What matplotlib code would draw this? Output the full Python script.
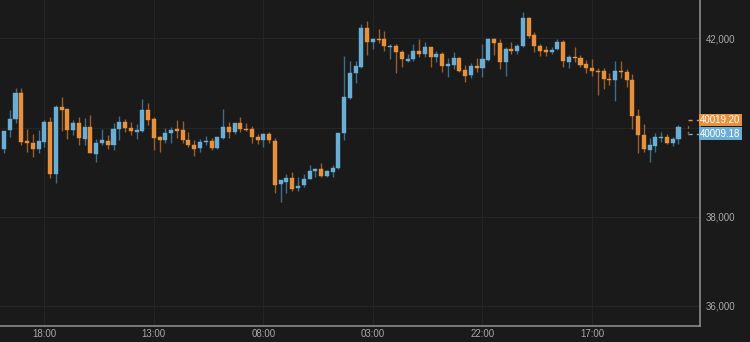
import numpy as np
import matplotlib.pyplot as plt
from matplotlib.transforms import offset_copy

# -----------------------------
# datos (velas horarias)
# -----------------------------
opens = [39511, 39944, 40184, 40780, 39697, 39659, 39518, 39681, 40130, 38951,
         40453, 40408, 39944, 40094, 39735, 40018, 39406, 39659, 39704, 39608,
         39966, 40117, 39996, 39906, 39926, 40392, 40184, 39776, 39720, 39870,
         39960, 39933, 39720, 39608, 39534, 39668, 39704, 39534, 39758, 40018,
         39893, 40094, 39966, 39966, 39794, 39720, 39854, 39704, 38733, 38785,
         38861, 38637, 38711, 38845, 39025, 39069, 38912, 39009, 39085, 39883,
         40668, 41215, 41363, 42224, 41910, 41984, 41978, 41812, 41827, 41700,
         41498, 41536, 41715, 41641, 41798, 41587, 41648, 41386, 41401, 41551,
         41289, 41177, 41386, 41327, 41513, 41984, 41888, 41462, 41753, 41722,
         41827, 42448, 42074, 41827, 41738, 41686, 41753, 41924, 41475, 41587,
         41551, 41417, 41327, 41274, 41267, 41087, 41065, 41267, 41251, 41065,
         40258, 39832, 39495, 39592, 39758, 39780, 39646, 39735]
highs = [39928, 40392, 40892, 40892, 39966, 39847, 39944, 40168, 40242, 40505,
         40677, 40408, 40168, 40229, 40206, 40280, 39735, 39960, 39832, 40107,
         40258, 40184, 40123, 40072, 40634, 40542, 40242, 39820, 39982, 40011,
         40157, 40146, 39906, 39720, 39735, 39809, 39758, 39794, 40408, 40130,
         40107, 40242, 40094, 40034, 39847, 39870, 39906, 39758, 38823, 38951,
         38996, 38897, 38951, 39159, 39099, 39197, 39047, 39159, 39883, 41603,
         41498, 41498, 42321, 42388, 42013, 42208, 42170, 41872, 41872, 41738,
         41641, 41865, 41977, 41910, 41812, 41715, 41686, 41551, 41686, 41587,
         41401, 41439, 41551, 41865, 42000, 42000, 41977, 41812, 41924, 41865,
         42596, 42471, 42148, 41872, 41827, 41812, 41977, 41962, 41626, 41812,
         41626, 41513, 41529, 41327, 41341, 41215, 41491, 41498, 41305, 41199,
         40415, 40078, 39771, 39870, 39906, 39854, 39794, 40056]
lows = [39435, 39794, 40094, 39608, 39457, 39345, 39421, 39569, 38861, 38762,
        39928, 39735, 39832, 39608, 39608, 39421, 39233, 39608, 39511, 39495,
        39720, 39906, 39832, 39735, 39906, 40056, 39495, 39457, 39646, 39646,
        39764, 39646, 39569, 39368, 39457, 39608, 39495, 39518, 39735, 39758,
        39847, 39906, 39928, 39659, 39630, 39569, 39659, 38525, 38336, 38525,
        38583, 38583, 38659, 38845, 38883, 38883, 38897, 38883, 39069, 39720,
        40632, 41005, 41327, 41626, 41753, 41888, 41722, 41529, 41215, 41350,
        41475, 41491, 41587, 41587, 41363, 41475, 41238, 41139, 41305, 41238,
        41027, 41117, 41238, 41139, 41498, 41626, 41312, 41161, 41641, 41641,
        41812, 42000, 41700, 41603, 41603, 41641, 41738, 41363, 41327, 41475,
        41363, 41215, 41161, 40729, 40856, 40953, 40601, 41103, 40915, 39966,
        39421, 39457, 39220, 39444, 39681, 39630, 39585, 39623]
closes = [39928, 40191, 40780, 39668, 39659, 39518, 39697, 40130, 38951, 40453,
          40392, 39944, 40107, 39758, 40018, 39421, 39659, 39720, 39608, 39966,
          40117, 39996, 39928, 39944, 40392, 40168, 39764, 39720, 39870, 39933,
          39928, 39720, 39608, 39518, 39681, 39704, 39534, 39780, 40018, 39893,
          40094, 39960, 39937, 39794, 39720, 39854, 39720, 38711, 38823, 38861,
          38621, 38695, 38845, 39025, 39069, 38906, 39025, 39085, 39883, 40677,
          41215, 41379, 42224, 41910, 41984, 41962, 41827, 41834, 41686, 41529,
          41536, 41715, 41641, 41798, 41587, 41648, 41386, 41417, 41551, 41274,
          41155, 41386, 41327, 41529, 41984, 41888, 41462, 41753, 41722, 41827,
          42448, 42052, 41834, 41715, 41700, 41738, 41924, 41498, 41587, 41551,
          41401, 41327, 41274, 41238, 41081, 41065, 41267, 41238, 41065, 40258,
          39832, 39511, 39608, 39780, 39794, 39646, 39735, 40009]

etiquetas_x = ["18:00", "13:00", "08:00", "03:00", "22:00", "17:00"]
ticks_y = [36000, 38000, 40000, 42000]
precio_ask = 40019.20
precio_bid = 40009.18

# -----------------------------
# colores
# -----------------------------
fondo = "#1a1a1a"
azul = "#6aaed6"
azul_mecha = "#3e6c8a"
naranja = "#e8903c"
naranja_mecha = "#9a5f2a"

fig = plt.figure(figsize=(7.5, 3.42), dpi=100, facecolor=fondo)
ax = fig.add_axes([0, 16 / 342, 700 / 750, 326 / 342], facecolor=fondo)

o = np.array(opens, dtype=float)
h = np.array(highs, dtype=float)
l = np.array(lows, dtype=float)
c = np.array(closes, dtype=float)
x = np.arange(len(o))

sube = c >= o
col_cuerpo = np.where(sube, azul, naranja)
col_mecha = np.where(sube, azul_mecha, naranja_mecha)

# mechas
ax.vlines(x, l, h, colors=col_mecha, linewidth=1.0, zorder=2)

# cuerpos (altura minima para dojis)
base = np.minimum(o, c)
alto = np.maximum(np.abs(c - o), 18)
ax.bar(x, alto, bottom=base, width=0.7, color=col_cuerpo,
       edgecolor=col_cuerpo, linewidth=0.3, zorder=3)

# -----------------------------
# ejes
# -----------------------------
ax.set_xlim(-0.69, 120.73)
ax.set_ylim(35549, 42859)

pos_x = [7 + 19 * k for k in range(len(etiquetas_x))]
ax.set_xticks(pos_x)
ax.set_xticklabels(etiquetas_x)
ax.set_yticks(ticks_y)
# la etiqueta de 40,000 queda tapada por las etiquetas de precio
ax.set_yticklabels(["" if v == 40000 else f"{v:,}" for v in ticks_y])

ax.yaxis.tick_right()
ax.tick_params(axis="both", length=0, colors="#a8a8a8", labelsize=7)
ax.tick_params(axis="y", pad=4)
ax.tick_params(axis="x", pad=2)
for lab in ax.get_xticklabels() + ax.get_yticklabels():
    lab.set_fontfamily("Liberation Sans")

ax.grid(True, color="#252525", linewidth=0.8, zorder=0)
ax.set_axisbelow(True)

for lado in ["top", "left"]:
    ax.spines[lado].set_visible(False)
for lado in ["right", "bottom"]:
    ax.spines[lado].set_color("#8a8a8a")
    ax.spines[lado].set_linewidth(1.2)

# -----------------------------
# precio actual (etiquetas + guia discontinua)
# -----------------------------
trans = ax.get_yaxis_transform()
x_guia = len(o) + 0.6
for valor, col, dy in [(precio_ask, naranja, 4.7), (precio_bid, azul, -4.7)]:
    t = offset_copy(trans, fig=fig, y=dy, units="points")
    ax.text(1.0, valor, f"{valor:.2f}", transform=t, ha="left", va="center",
            fontsize=7, color="white", family="Liberation Sans",
            bbox=dict(boxstyle="square,pad=0.12", fc=col, ec="none"),
            clip_on=False, zorder=10)
    td = offset_copy(ax.transData, fig=fig, y=dy, units="points")
    ax.plot([x_guia, ax.get_xlim()[1]], [valor, valor], transform=td,
            color=col, linestyle=(0, (3, 3)), linewidth=1, zorder=4,
            clip_on=False)

td = offset_copy(ax.transData, fig=fig, y=-4.7, units="points")
ax.plot([x_guia, x_guia], [precio_bid, precio_bid + 230], transform=td,
        color=naranja_mecha, linestyle=(0, (2, 2)), linewidth=1, zorder=4)

fig.savefig("out.png", dpi=100, facecolor=fondo)
